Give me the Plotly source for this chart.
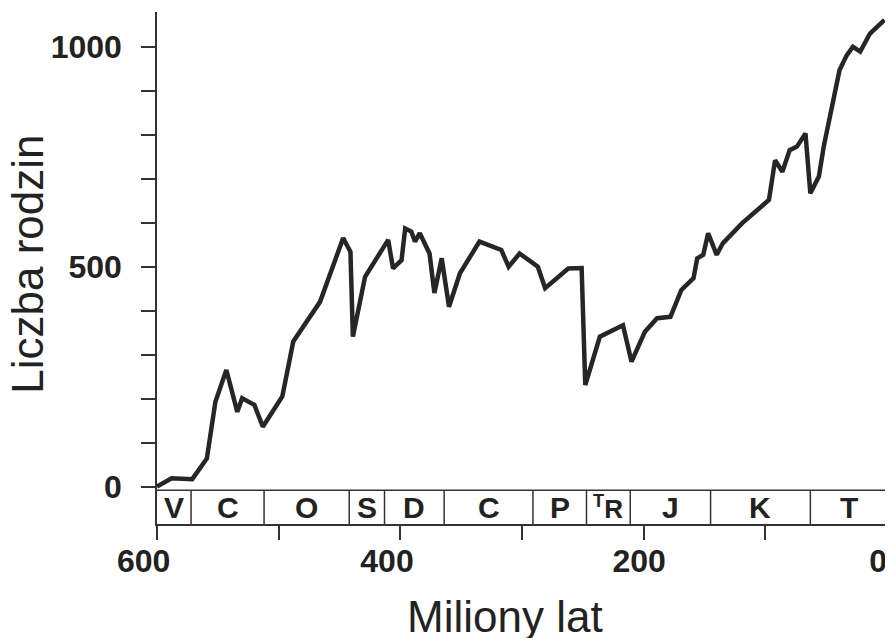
import plotly.graph_objects as go

# Data: time (millions of years ago) and number of families
mya = [600, 588, 571, 559, 552, 543, 534, 530, 520, 513, 497, 488, 466, 455, 447, 441, 439,
       429, 422, 410, 406, 399, 396, 391, 388, 384, 376, 372, 366, 360, 351, 335, 317, 311,
       302, 287, 281, 262, 251, 248, 236, 217, 210, 199, 189, 178, 169, 159, 156, 151, 147,
       140, 135, 119, 97, 92, 86, 80, 74, 67, 63, 56, 52, 39, 33, 28, 22, 14, 2]
families = [0, 19, 17, 64, 193, 265, 170, 201, 186, 136, 205, 330, 420, 500, 565, 534, 341,
            477, 508, 561, 496, 515, 587, 580, 557, 576, 530, 440, 519, 409, 485, 557, 538, 500,
            530, 500, 451, 496, 497, 231, 341, 367, 284, 352, 383, 386, 447, 474, 519, 527, 576,
            527, 553, 599, 652, 742, 716, 765, 773, 803, 667, 705, 773, 947, 981, 1000, 989, 1030, 1061]

# Geological periods
period_bounds = [600, 572, 512, 442, 413, 364, 291, 247, 211, 145, 63, 0]
period_labels = ["V", "C", "O", "S", "D", "C", "P", "<sup>T</sup>R", "J", "K", "T"]

NB = "\u00a0"
x_ticks = [600, 400, 200, 0]
x_ticktext = ["600" + NB * 3, "400" + NB * 3, "200" + NB, "0" + NB * 2]
x_minor = [500, 300, 100]
y_ticks = [0, 500, 1000]
y_ticktext = ["0", "500", "1000"]
y_minor = [100, 200, 300, 400, 600, 700, 800, 900]

BAND_TOP = -8
BAND_BOT = -85
Y_MAX = 1079

FONT = "Liberation Sans, Arial, sans-serif"
INK = "#222222"

fig = go.Figure()
fig.add_trace(go.Scatter(x=mya, y=families, mode="lines",
                         line=dict(color="#262626", width=4.5), showlegend=False,
                         hoverinfo="skip"))

shapes = [dict(type="line", xref="x", yref="y", x0=period_bounds[0], x1=period_bounds[-1],
               y0=BAND_TOP, y1=BAND_TOP, line=dict(color="#333333", width=1.5))]
for b in period_bounds[1:-1]:
    shapes.append(dict(type="line", xref="x", yref="y", x0=b, x1=b, y0=BAND_TOP, y1=BAND_BOT,
                       line=dict(color="#333333", width=1.5)))

annotations = []
for i, lab in enumerate(period_labels):
    xc = (period_bounds[i] + period_bounds[i + 1]) / 2
    yc = (BAND_TOP + BAND_BOT) / 2
    annotations.append(dict(x=xc, y=yc, xref="x", yref="y", text=lab, showarrow=False,
                            font=dict(family=FONT, size=30 if "sup" not in lab else 26,
                                      color=INK, weight="bold")))

annotations.append(dict(x=-0.177, y=0.508, xref="paper", yref="paper", text="Liczba rodzin",
                        textangle=-90, showarrow=False, xanchor="center", yanchor="middle",
                        font=dict(family=FONT, size=44, color=INK)))
annotations.append(dict(x=0.477, y=-0.18, xref="paper", yref="paper", text="Miliony lat",
                        showarrow=False, xanchor="center", yanchor="middle",
                        font=dict(family=FONT, size=44, color=INK)))

tick_style = dict(ticks="outside", ticklen=14, tickwidth=1.5, tickcolor="#333333")

fig.update_layout(
    width=885, height=630,
    margin=dict(l=149, r=6, t=4, b=114),
    plot_bgcolor="white", paper_bgcolor="white",
    shapes=shapes, annotations=annotations,
    xaxis=dict(range=[600, 0], tickvals=x_ticks, ticktext=x_ticktext, automargin=False,
               **tick_style, minor=dict(tickvals=x_minor, **tick_style),
               showline=True, linecolor="#333333", linewidth=1.5,
               showgrid=False, zeroline=False, ticklabelstandoff=-6,
               ticklabeloverflow="allow",
               tickfont=dict(family=FONT, size=32, color=INK, weight="bold")),
    yaxis=dict(range=[BAND_BOT, Y_MAX], tickvals=y_ticks, ticktext=y_ticktext, automargin=False,
               **tick_style, minor=dict(tickvals=y_minor, **tick_style),
               showline=True, linecolor="#333333", linewidth=1.5, mirror=True,
               showgrid=False, zeroline=False, ticklabelstandoff=13,
               tickfont=dict(family=FONT, size=32, color=INK, weight="bold")),
)

fig.write_html("out.html")
